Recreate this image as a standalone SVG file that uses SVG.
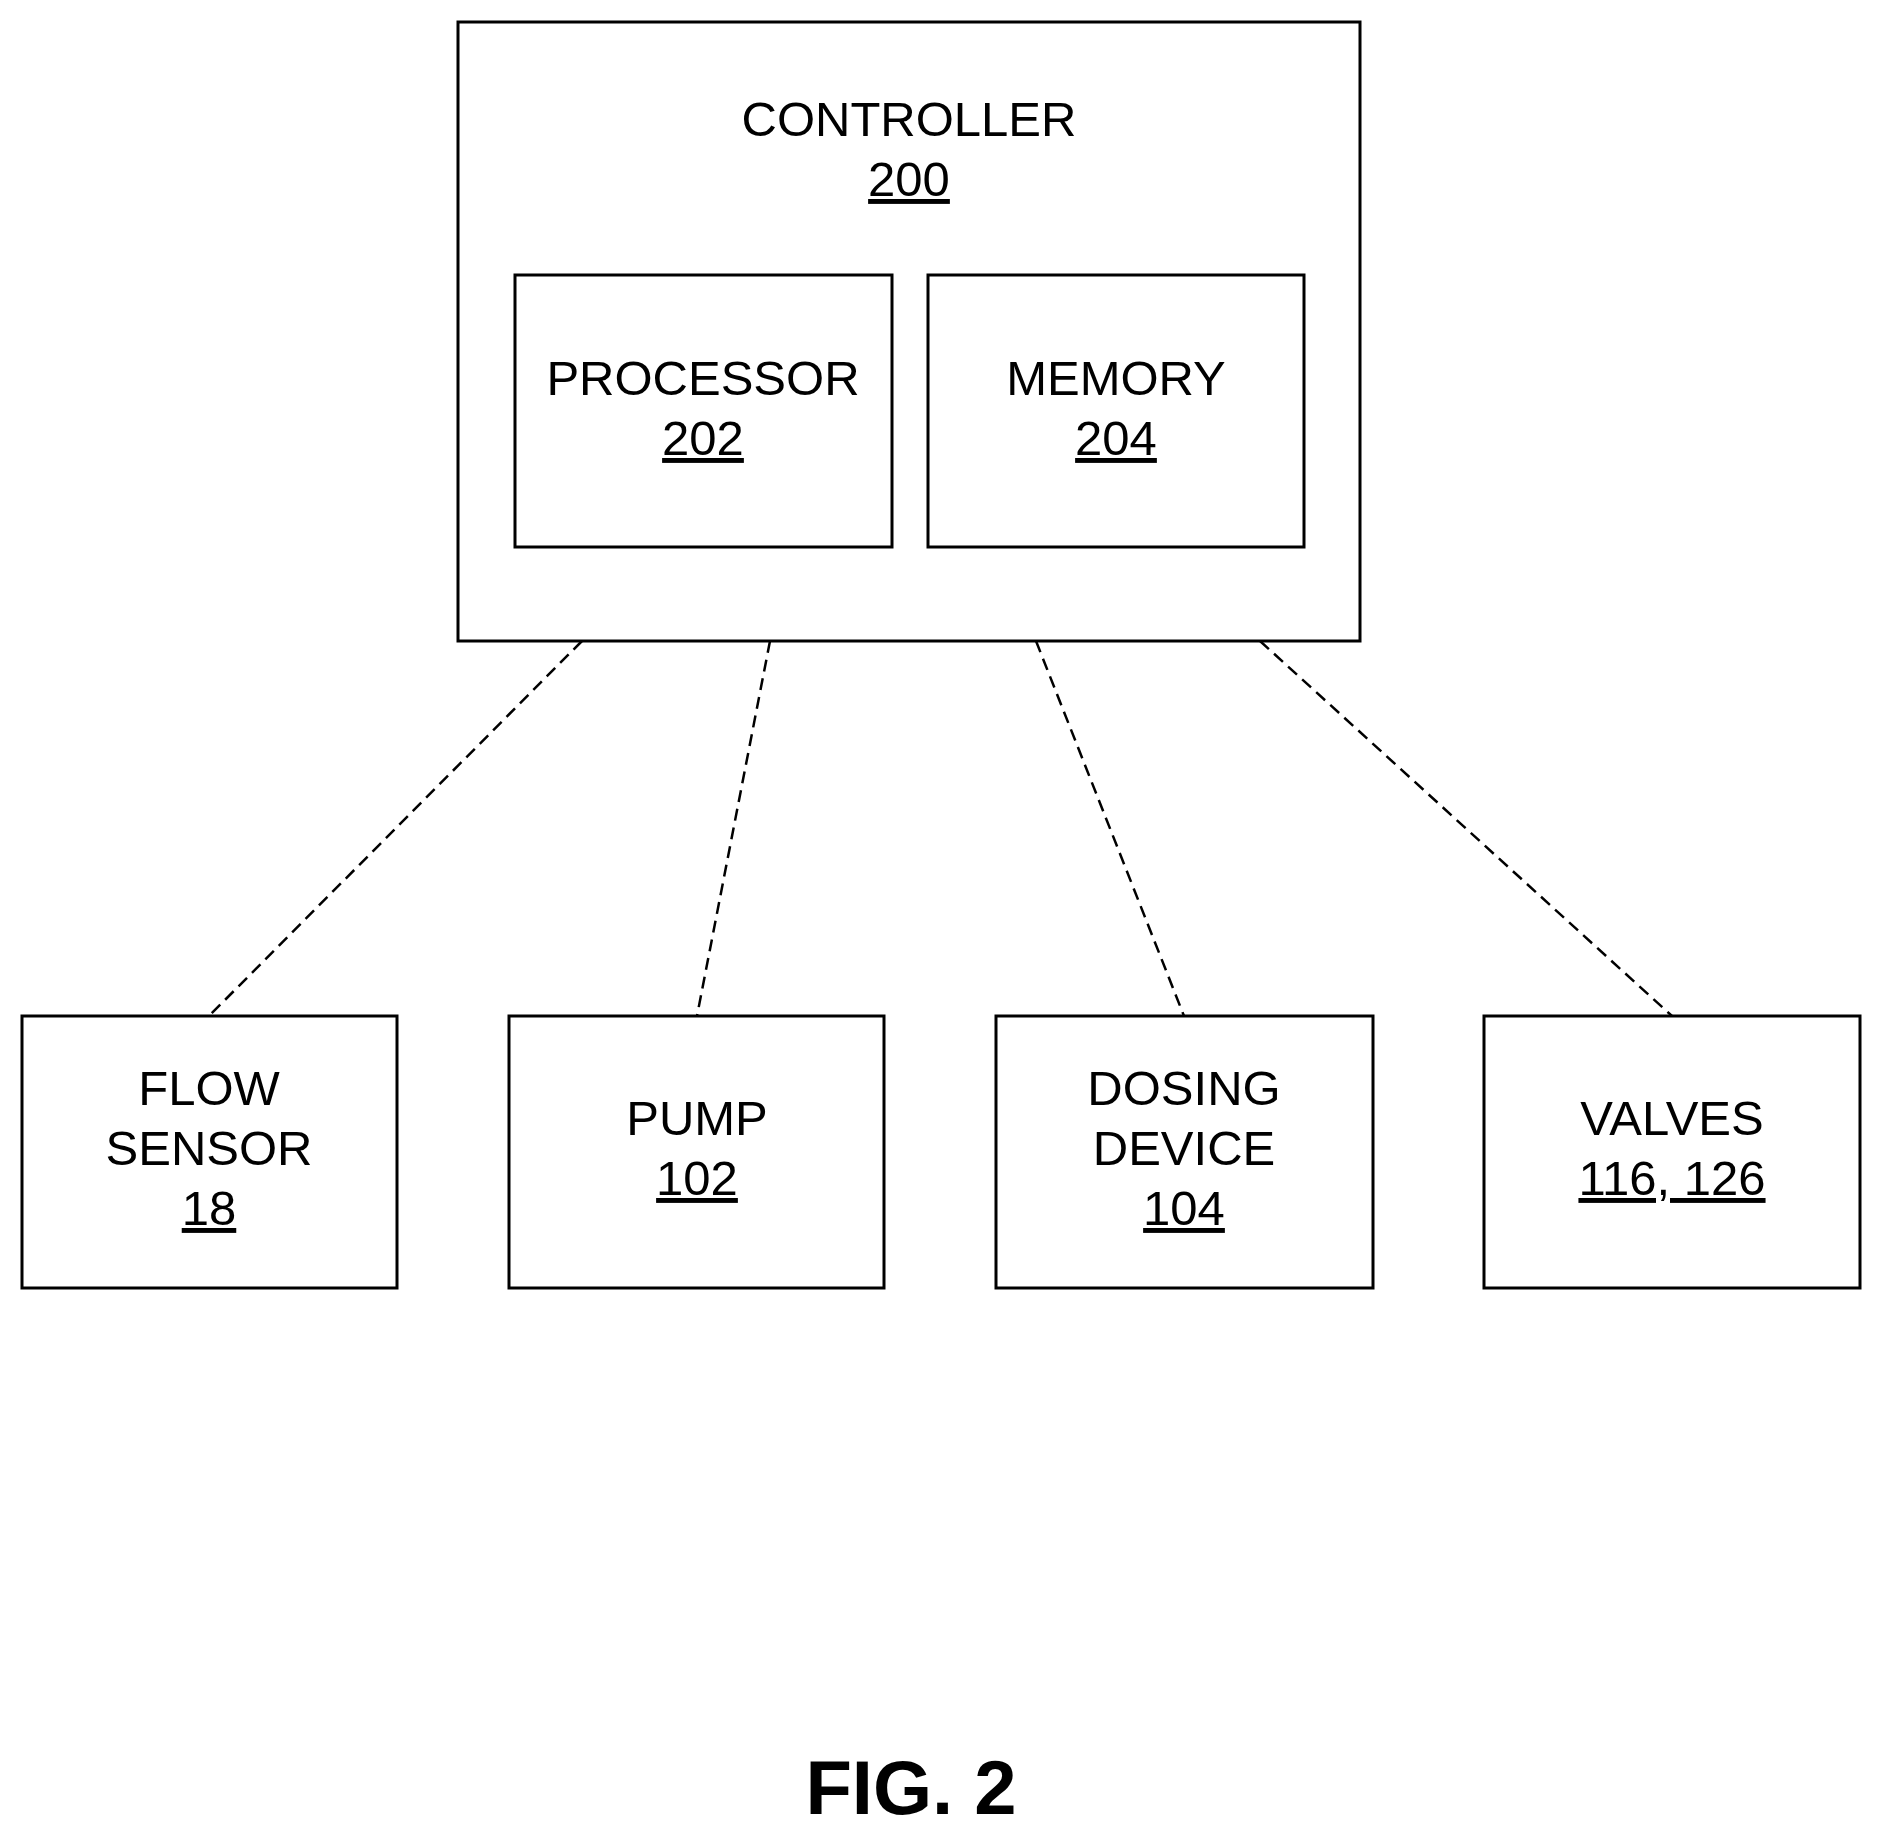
<svg xmlns="http://www.w3.org/2000/svg" width="1881" height="1837" viewBox="0 0 1881 1837">
<style>
rect{fill:#fff;stroke:#000;stroke-width:3}
text{font-family:"Liberation Sans",Arial,sans-serif;font-size:49px;text-anchor:middle;fill:#000}
.u{text-decoration:underline}
.c line{stroke:#000;stroke-width:2.5;stroke-dasharray:12,7}
</style>
<rect width="1881" height="1837" style="stroke:none"/>
<g class="c" id="connectors">
<line x1="582" y1="641" x2="209" y2="1016"/>
<line x1="770" y1="641" x2="697" y2="1016"/>
<line x1="1036" y1="641" x2="1184" y2="1016"/>
<line x1="1260" y1="641" x2="1672" y2="1016"/>
</g>
<g id="controller"><rect x="458" y="22" width="902" height="619"/><text x="909" y="136">CONTROLLER</text><text x="909" y="196" class="u">200</text></g>
<g id="processor"><rect x="515" y="275" width="377" height="272"/><text x="703" y="395">PROCESSOR</text><text x="703" y="455" class="u">202</text></g>
<g id="memory"><rect x="928" y="275" width="376" height="272"/><text x="1116" y="395">MEMORY</text><text x="1116" y="455" class="u">204</text></g>
<g id="flow"><rect x="22" y="1016" width="375" height="272"/><text x="209" y="1105">FLOW</text><text x="209" y="1165">SENSOR</text><text x="209" y="1225" class="u">18</text></g>
<g id="pump"><rect x="509" y="1016" width="375" height="272"/><text x="697" y="1135">PUMP</text><text x="697" y="1195" class="u">102</text></g>
<g id="dosing"><rect x="996" y="1016" width="377" height="272"/><text x="1184" y="1105">DOSING</text><text x="1184" y="1165">DEVICE</text><text x="1184" y="1225" class="u">104</text></g>
<g id="valves"><rect x="1484" y="1016" width="376" height="272"/><text x="1672" y="1135">VALVES</text><text x="1672" y="1195" class="u">116, 126</text></g>
<text x="911" y="1814" style="font-weight:bold;font-size:76px">FIG. 2</text>
</svg>
